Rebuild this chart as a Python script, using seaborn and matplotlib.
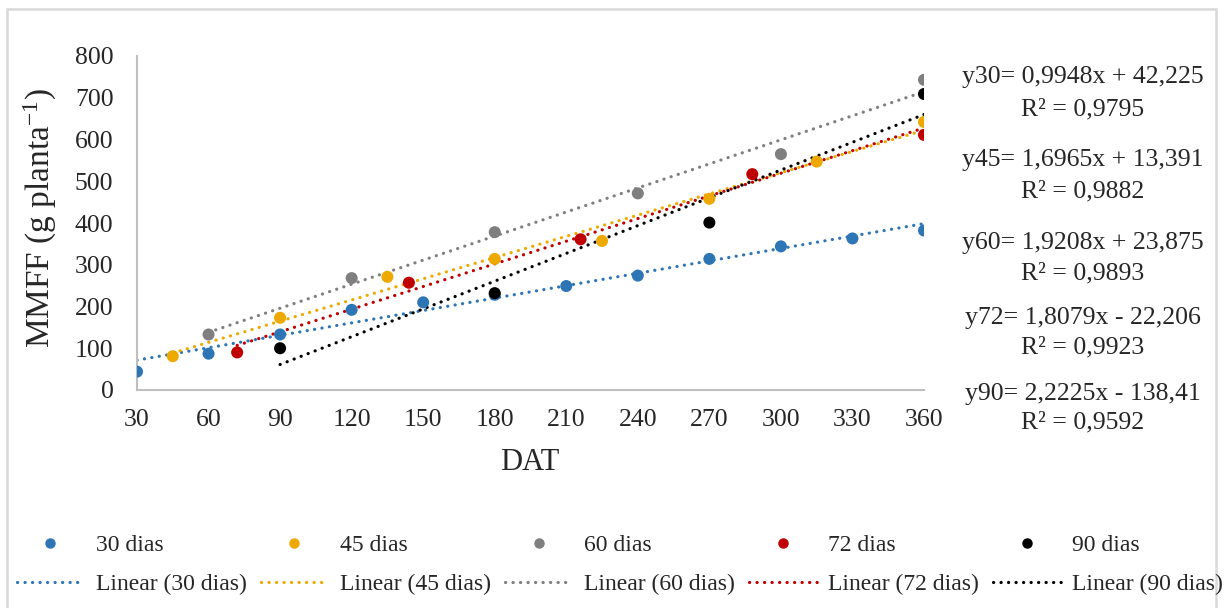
import numpy as np
import pandas as pd
import matplotlib
matplotlib.use("Agg")
import matplotlib.pyplot as plt
from matplotlib.patches import Rectangle
from matplotlib.lines import Line2D
import seaborn as sns

# ---- data ----
x30 = [30, 60, 90, 120, 150, 180, 210, 240, 270, 300, 330, 360]
y30 = [44, 87, 133, 192, 210, 228, 249, 274, 314, 344, 363, 382]
x45 = [45, 90, 135, 180, 225, 270, 315, 360]
y45 = [81, 173, 271, 314, 357, 458, 547, 642]
x60 = [60, 120, 180, 240, 300, 360]
y60 = [133, 268, 378, 471, 565, 743]
x72 = [72, 144, 216, 288, 360]
y72 = [90, 257, 361, 517, 611]
x90 = [90, 180, 270, 360]
y90 = [100, 232, 401, 709]

series_names = ["30 dias", "45 dias", "60 dias", "72 dias", "90 dias"]
colors = ["#2E75B6", "#EDA900", "#7F7F7F", "#C00000", "#000000"]
equations = ["y30= 0,9948x + 42,225", "y45= 1,6965x + 13,391",
             "y60= 1,9208x + 23,875", "y72= 1,8079x - 22,206",
             "y90= 2,2225x - 138,41"]
r2_texts = ["R² = 0,9795", "R² = 0,9882", "R² = 0,9893",
            "R² = 0,9923", "R² = 0,9592"]
x_ticks = [30, 60, 90, 120, 150, 180, 210, 240, 270, 300, 330, 360]
y_ticks = [0, 100, 200, 300, 400, 500, 600, 700, 800]

xs = [x30, x45, x60, x72, x90]
ys = [y30, y45, y60, y72, y90]

sns.set_theme(style="white")
plt.rcParams["font.family"] = ["Liberation Serif", "DejaVu Serif"]
plt.rcParams["mathtext.fontset"] = "custom"
plt.rcParams["mathtext.rm"] = "Liberation Serif"
plt.rcParams["mathtext.it"] = "Liberation Serif:italic"

W, H = 1225, 608
fig = plt.figure(figsize=(W / 100, H / 100), dpi=100)
fig.patch.set_facecolor("white")
ax = fig.add_axes([137 / W, 1 - 390 / H, (924 - 137) / W, (390 - 56) / H])

DOT = (0, (0.05, 2.3))
LW = 2.3
handles_pts, handles_lines = [], []
for xv, yv, name, c in zip(xs, ys, series_names, colors):
    df = pd.DataFrame({"DAT": xv, "MMFF": yv})
    sns.regplot(data=df, x="DAT", y="MMFF", ax=ax, scatter=False, ci=None,
                truncate=True,
                line_kws=dict(color=c, lw=LW, linestyle=DOT,
                              dash_capstyle="round", zorder=2))
for xv, yv, name, c in zip(xs, ys, series_names, colors):
    df = pd.DataFrame({"DAT": xv, "MMFF": yv})
    sns.scatterplot(data=df, x="DAT", y="MMFF", ax=ax, color=c, s=75,
                    edgecolor="none", zorder=3, legend=False)
    handles_pts.append(Line2D([], [], marker="o", color=c, linestyle="none",
                              markersize=6.5))
    handles_lines.append(Line2D([], [], color=c, lw=LW, linestyle=DOT,
                                dash_capstyle="round"))

ax.set_xlim(30, 360)
ax.set_ylim(0, 800)
ax.set_xticks(x_ticks)
ax.set_yticks(y_ticks)
ax.tick_params(axis="both", direction="in", length=7, width=1.3,
               color="#BFBFBF", labelsize=18.5, labelcolor="#262626")
ax.tick_params(axis="y", pad=17)
ax.tick_params(axis="x", pad=14)
for s in ["top", "right"]:
    ax.spines[s].set_visible(False)
for s in ["left", "bottom"]:
    ax.spines[s].set_color("#BFBFBF")
    ax.spines[s].set_linewidth(1.5)
ax.grid(False)
ax.set_xlabel("")
ax.set_ylabel("")

fig.text(40 / W, 1 - 218 / H, "MMFF (g planta$^{-1}$)", rotation=90,
         ha="center", va="center", fontsize=24, color="#262626")
fig.text(530 / W, 1 - 463 / H, "DAT", ha="center", va="center",
         fontsize=22, color="#262626")

eq_y = [77, 160, 243, 318, 394]
r2_y = [109, 191, 273, 347, 422]
for eq, r2, ey, ry in zip(equations, r2_texts, eq_y, r2_y):
    fig.text(1083 / W, 1 - ey / H, eq, ha="center", va="center",
             fontsize=18.5, color="#262626")
    fig.text(1083 / W, 1 - ry / H, r2, ha="center", va="center",
             fontsize=18.5, color="#262626")

handles, labels = [], []
for hp, hl, name in zip(handles_pts, handles_lines, series_names):
    handles += [hp, hl]
    labels += [name, f"Linear ({name})"]
fig.legend(handles, labels, ncol=5, loc="center",
           bbox_to_anchor=(620 / W, 1 - 565 / H), frameon=False,
           fontsize=17, handlelength=2.85, handletextpad=0.5,
           columnspacing=0.6, labelspacing=0.75, borderpad=0,
           labelcolor="#262626")

fig.patches.append(Rectangle((7 / W, -0.05), (1216 - 7) / W, 1.05 - 9 / H,
                             transform=fig.transFigure, fill=False,
                             edgecolor="#D9D9D9", lw=1.8))

fig.savefig("out.png", dpi=100, facecolor="white")
